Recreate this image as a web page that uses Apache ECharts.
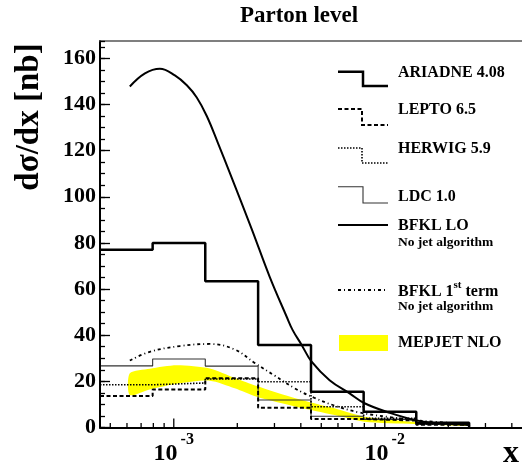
<!DOCTYPE html>
<html>
<head>
<meta charset="utf-8">
<script src="https://cdn.jsdelivr.net/npm/echarts@6/dist/echarts.min.js"></script>
<style>
html,body{margin:0;padding:0;background:#fff;}
#chart{width:522px;height:469px;}
</style>
</head>
<body>
<div id="chart"></div>
<script>
// ---------------- data ----------------
var binEdges = [0.000447, 0.000794, 0.00141, 0.00251, 0.00447, 0.00794, 0.0141, 0.0251];
var ariadne = [77, 80, 63.4, 35.8, 15.5, 6.8, 2.1];
var lepto   = [13.6, 16.5, 21.3, 8.6, 3.7, 3.0, 1.2];
var herwig  = [18.5, 19.3, 21.0, 19.8, 9.0, 4.0, 1.5];
var ldc     = [26.7, 29.7, 26.6, 11.9, 4.9, 3.5, 1.3];

var bfklLoX = [0.000619, 0.00073, 0.000859, 0.001012, 0.001153, 0.001285, 0.001433, 0.001616, 0.001841, 0.002341, 0.002848, 0.003428, 0.00366, 0.004036, 0.0045, 0.005475, 0.00681, 0.00802, 0.01052, 0.01398, 0.01816, 0.02518];
var bfklLoY = [147.8, 153.5, 155.5, 152.6, 148.3, 143, 135, 123.5, 110.5, 86, 65.3, 48, 42.2, 35.8, 28.5, 20.5, 14.8, 10.5, 6.4, 3.2, 1.8, 1.1];

var bfkl1X = [0.000619, 0.00077, 0.001069, 0.001482, 0.001945, 0.002416, 0.003005, 0.00374, 0.00465, 0.00578, 0.00759, 0.01052, 0.01459, 0.02518];
var bfkl1Y = [29, 32.8, 35.3, 36.2, 33.8, 28, 22.5, 17, 12.8, 9.5, 6.5, 4.5, 3.0, 1.5];

var mepX     = [0.000619, 0.00077, 0.001033, 0.001482, 0.001945, 0.002471, 0.0038, 0.00578, 0.00802, 0.0138, 0.02518];
var mepUpper = [23.5, 25.5, 27.0, 25.6, 21.5, 18.0, 12.6, 8.3, 4.7, 2.5, 1.4];
var mepLower = [14.1, 16.5, 19.0, 20.3, 17.0, 13.3, 9.0, 5.4, 2.5, 1.5, 0.6];

var xMin = 0.000447, xMax = 0.0447;
var yMin = 0, yMax = 167.5;
var yTickStep = 20, yMinorStep = 5;
var xMajorTicks = [0.001, 0.01];
var xMinorTicks = [0.0005, 0.0006, 0.0007, 0.0008, 0.0009, 0.002, 0.003, 0.004, 0.005, 0.006, 0.007, 0.008, 0.009, 0.02, 0.03, 0.04];

var legendNames = ['ARIADNE 4.08', 'LEPTO 6.5', 'HERWIG 5.9', 'LDC 1.0', 'BFKL LO', 'BFKL 1st term', 'MEPJET NLO'];

// ---------------- helpers ----------------
function histo(edges, vals) {
  var d = [];
  for (var i = 0; i < vals.length; i++) d.push([edges[i], vals[i]]);
  d.push([edges[vals.length], vals[vals.length - 1]]);
  d.push([edges[vals.length], 0]);
  return d;
}
function zip(xs, ys) { return xs.map(function (x, i) { return [x, ys[i]]; }); }

var FONT = 'Liberation Serif';
var chart = echarts.init(document.getElementById('chart'), null, {renderer: 'canvas'});

var stepLine = function (name, vals, style) {
  return {
    name: name, type: 'line', step: 'end', data: histo(binEdges, vals),
    symbol: 'none', lineStyle: style, z: 5, silent: true
  };
};

var option = {
  animation: false,
  backgroundColor: '#fff',
  title: {
    text: 'Parton level', left: 294, top: 0, textAlign: 'center',
    textStyle: {fontFamily: FONT, fontWeight: 'bold', fontSize: 23, color: '#000'}
  },
  grid: {left: 100, right: 0, top: 41, bottom: 41.5},
  xAxis: [
    {
      type: 'log', logBase: 10, min: xMin, max: xMax, position: 'bottom', z: 10,
      axisLine: {show: true, onZero: false, lineStyle: {color: '#000', width: 2}},
      axisTick: {show: false},
      axisLabel: {
        show: true, customValues: xMajorTicks, margin: 4,
        formatter: function (v) { return '{a|10}{b|' + Math.round(Math.log10(v)) + '}'; },
        rich: {
          a: {fontFamily: FONT, fontWeight: 'bold', fontSize: 24, color: '#000', verticalAlign: 'bottom', lineHeight: 34},
          b: {fontFamily: FONT, fontWeight: 'bold', fontSize: 16, color: '#000', verticalAlign: 'top', lineHeight: 34, padding: [0, 0, 0, 3]}
        }
      },
      splitLine: {show: false}, minorTick: {show: false}
    },
    {
      type: 'log', logBase: 10, min: xMin, max: xMax, position: 'top', z: 10,
      axisLine: {show: true, onZero: false, lineStyle: {color: '#555', width: 1.5}},
      axisTick: {show: false}, axisLabel: {show: false}, splitLine: {show: false}
    }
  ],
  yAxis: [
    {
      type: 'value', min: yMin, max: yMax, interval: yTickStep, position: 'left', z: 10,
      axisLine: {show: true, onZero: false, lineStyle: {color: '#000', width: 2}},
      axisTick: {show: true, inside: true, length: 10, lineStyle: {color: '#000', width: 1.3}},
      axisLabel: {fontFamily: FONT, fontWeight: 'bold', fontSize: 22, color: '#000', margin: 4},
      splitLine: {show: false}
    },
    {
      type: 'value', min: yMin, max: yMax, interval: yMinorStep, position: 'left', offset: 0, z: 10,
      axisLine: {show: false, onZero: false},
      axisTick: {show: true, inside: true, length: 5, lineStyle: {color: '#000', width: 1.3}},
      axisLabel: {show: false}, splitLine: {show: false}
    }
  ],
  series: [
    {
      name: legendNames[6], type: 'custom', z: 1, silent: true,
      data: mepX.map(function (x, i) { return [x, mepLower[i], mepUpper[i]]; }),
      encode: {x: 0, y: [1, 2]},
      renderItem: function (params, api) {
        if (params.dataIndex !== 0) return null;
        var pts = [];
        for (var i = 0; i < mepX.length; i++) pts.push(api.coord([mepX[i], mepUpper[i]]));
        for (var j = mepX.length - 1; j >= 0; j--) pts.push(api.coord([mepX[j], mepLower[j]]));
        return {type: 'polygon', shape: {points: pts, smooth: 0.25}, style: {fill: '#ffff00', stroke: null}};
      }
    },
    // x-axis log ticks (minor at 2..9 x 10^n, major at decades), placed by the log scale
    {
      name: 'xTicks', type: 'custom', z: 9, silent: true,
      data: xMinorTicks.map(function (v) { return [v, 0]; }).concat(xMajorTicks.map(function (v) { return [v, 1]; })),
      encode: {x: 0},
      renderItem: function (params, api) {
        var p = api.coord([api.value(0), yMin]);
        var len = api.value(1) ? 9 : 4.5;
        return {type: 'line', shape: {x1: p[0], y1: p[1], x2: p[0], y2: p[1] - len}, style: {stroke: '#000', lineWidth: 1.3}};
      }
    },
    stepLine(legendNames[3], ldc, {color: '#333', width: 1.1, type: 'solid'}),
    stepLine(legendNames[2], herwig, {color: '#000', width: 1.6, type: [1.5, 1.5]}),
    stepLine(legendNames[1], lepto, {color: '#000', width: 2, type: [4, 2.5]}),
    stepLine(legendNames[0], ariadne, {color: '#000', width: 2.5, type: 'solid'}),
    {
      name: legendNames[4], type: 'line', data: zip(bfklLoX, bfklLoY), smooth: 0.4,
      symbol: 'none', lineStyle: {color: '#000', width: 2}, z: 6, silent: true
    },
    {
      name: legendNames[5], type: 'line', data: zip(bfkl1X, bfkl1Y), smooth: 0.4,
      symbol: 'none', lineStyle: {color: '#000', width: 1.8, type: [3, 3, 1, 3]}, z: 6, silent: true
    }
  ],
  graphic: [
    {
      type: 'text', x: 29, y: 117, rotation: Math.PI / 2,
      style: {text: 'dσ/dx [nb]', font: 'bold 33px "Liberation Serif"', fill: '#000', align: 'center', verticalAlign: 'middle'}
    },
    {
      type: 'text', x: 511, y: 454,
      style: {text: 'x', font: 'bold 32px "Liberation Serif"', fill: '#000', align: 'center', verticalAlign: 'middle'}
    },
    {type: 'polyline', shape: {points: [[338, 71.7], [363, 71.7], [363, 86], [388, 86]]}, style: {stroke: '#000', lineWidth: 2.5, fill: null}},
    {type: 'polyline', shape: {points: [[338, 109], [362, 109], [362, 125], [388, 125]]}, style: {stroke: '#000', lineWidth: 2, lineDash: [4, 2.5], fill: null}},
    {type: 'polyline', shape: {points: [[338, 148], [362, 148], [362, 163], [388, 163]]}, style: {stroke: '#000', lineWidth: 1.6, lineDash: [1.5, 1.5], fill: null}},
    {type: 'polyline', shape: {points: [[338, 186.7], [363, 186.7], [363, 203], [388, 203]]}, style: {stroke: '#333', lineWidth: 1.1, fill: null}},
    {type: 'line', shape: {x1: 338, y1: 225, x2: 388, y2: 225}, style: {stroke: '#000', lineWidth: 2}},
    {type: 'line', shape: {x1: 338, y1: 290, x2: 388, y2: 290}, style: {stroke: '#000', lineWidth: 1.8, lineDash: [3, 3, 1, 3]}},
    {type: 'rect', shape: {x: 339, y: 335, width: 49, height: 16}, style: {fill: '#ffff00'}},
    {type: 'text', x: 398, y: 72.7, style: {text: legendNames[0], font: 'bold 16px "Liberation Serif"', fill: '#000', verticalAlign: 'middle'}},
    {type: 'text', x: 398, y: 110, style: {text: legendNames[1], font: 'bold 16px "Liberation Serif"', fill: '#000', verticalAlign: 'middle'}},
    {type: 'text', x: 398, y: 149, style: {text: legendNames[2], font: 'bold 16px "Liberation Serif"', fill: '#000', verticalAlign: 'middle'}},
    {type: 'text', x: 398, y: 196.7, style: {text: legendNames[3], font: 'bold 16px "Liberation Serif"', fill: '#000', verticalAlign: 'middle'}},
    {type: 'text', x: 398, y: 226, style: {text: legendNames[4], font: 'bold 16px "Liberation Serif"', fill: '#000', verticalAlign: 'middle'}},
    {type: 'text', x: 398, y: 242.7, style: {text: 'No jet algorithm', font: 'bold 13.5px "Liberation Serif"', fill: '#000', verticalAlign: 'middle'}},
    {
      type: 'text', x: 398, y: 290,
      style: {
        text: '{a|BFKL 1}{s|st}{a| term}', verticalAlign: 'middle',
        rich: {
          a: {font: 'bold 16px "Liberation Serif"', fill: '#000', verticalAlign: 'bottom', lineHeight: 20},
          s: {font: 'bold 11px "Liberation Serif"', fill: '#000', verticalAlign: 'top', lineHeight: 20}
        }
      }
    },
    {type: 'text', x: 398, y: 306.7, style: {text: 'No jet algorithm', font: 'bold 13.5px "Liberation Serif"', fill: '#000', verticalAlign: 'middle'}},
    {type: 'text', x: 398, y: 342.7, style: {text: legendNames[6], font: 'bold 16px "Liberation Serif"', fill: '#000', verticalAlign: 'middle'}}
  ]
};
chart.setOption(option);
</script>
</body>
</html>
